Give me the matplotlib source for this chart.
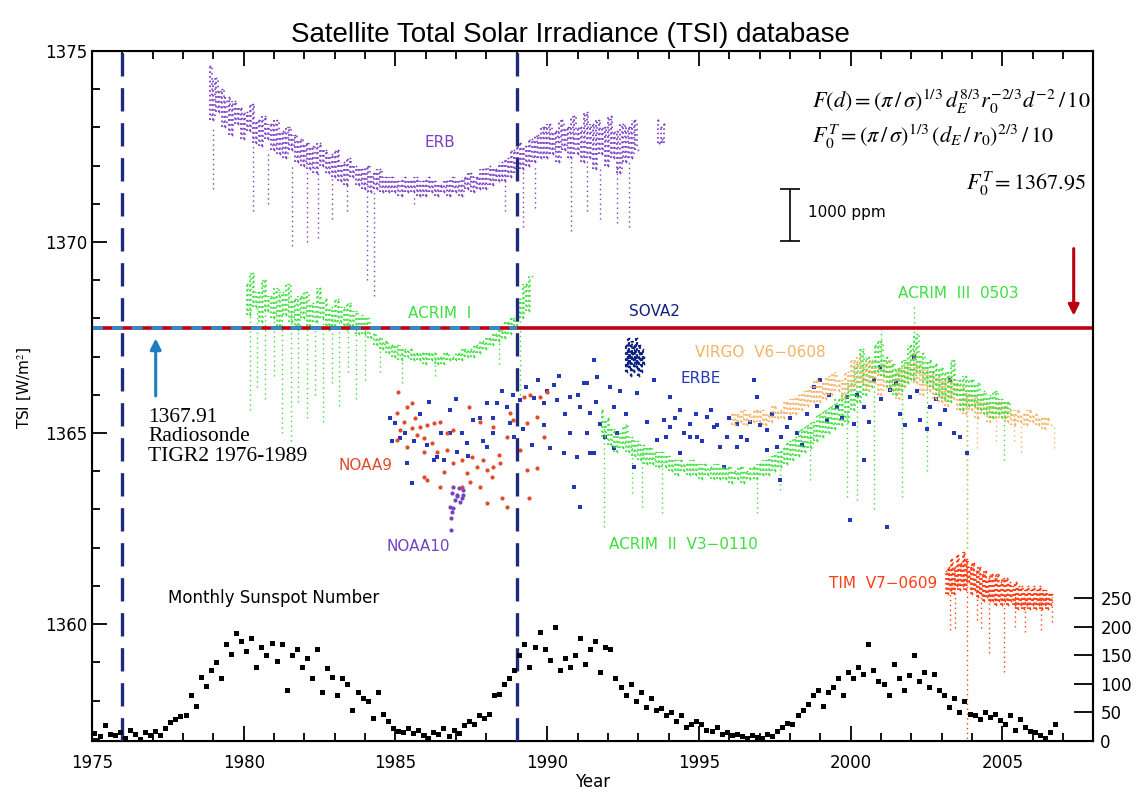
import numpy as np
import matplotlib
matplotlib.use('Agg')
import matplotlib.pyplot as plt

plt.rcParams['mathtext.fontset'] = 'stix'

# ---------------- data ----------------
# ERB, 0.1 yr steps from 1978.9
erb_start = 1978.9
erb_vals = [
    1374.6, 1373.2, 1374.3, 1373.4, 1374.0, 1373.0, 1373.8, 1372.8, 1373.7, 1373.1,
    1373.5, 1372.7, 1373.4, 1372.9, 1373.6, 1372.6, 1373.2, 1372.5, 1373.3, 1372.7,
    1373.1, 1372.4, 1373.2, 1372.3, 1372.9, 1372.2, 1373.0, 1372.4, 1372.8, 1372.1,
    1372.7, 1372.0, 1372.6, 1371.9, 1372.5, 1371.8, 1372.6, 1372.0, 1372.4, 1371.8,
    1372.3, 1371.7, 1372.4, 1371.6, 1372.1, 1371.5, 1372.2, 1371.7, 1372.0, 1371.5,
    1371.9, 1371.4, 1372.0, 1371.3, 1371.8, 1371.4, 1371.9, 1371.3, 1371.7, 1371.3,
    1371.7, 1371.3, 1371.6, 1371.2, 1371.7, 1371.3, 1371.6, 1371.3, 1371.7, 1371.2,
    1371.6, 1371.2, 1371.7, 1371.3, 1371.6, 1371.2, 1371.5, 1371.3, 1371.6, 1371.2,
    1371.7, 1371.3, 1371.6, 1371.2, 1371.7, 1371.4, 1371.8, 1371.3, 1371.7, 1371.4,
    1371.9, 1371.4, 1372.0, 1371.5, 1371.9, 1371.6, 1372.1, 1371.6, 1372.2, 1371.7,
    1372.4, 1371.8, 1372.6, 1371.9, 1372.5, 1372.0, 1372.7, 1372.1, 1372.8, 1372.2,
    1373.0, 1372.2, 1373.1, 1372.3, 1372.9, 1372.1, 1373.2, 1372.4, 1373.0, 1372.2,
    1373.3, 1372.3, 1373.0, 1372.1, 1373.4, 1372.2, 1373.1, 1371.9, 1373.2, 1372.3,
    1373.0, 1372.0, 1373.3, 1372.2, 1372.9, 1371.8, 1373.1, 1372.1, 1373.0, 1372.2,
    1373.2, 1372.4,
]
erb_end_t = [1993.65, 1993.7, 1993.75, 1993.8, 1993.85]
erb_end_v = [1373.2, 1372.6, 1373.0, 1372.7, 1373.1]
erb_dip_t = [1979.0, 1980.3, 1980.8, 1981.6, 1982.1, 1982.45, 1982.9, 1983.4, 1984.05, 1984.3,
             1985.6, 1988.6, 1989.2, 1989.6, 1990.8, 1991.3, 1991.75, 1992.3, 1992.7]
erb_dip_lo = [1371.4, 1370.8, 1371.0, 1369.9, 1370.0, 1370.1, 1370.6, 1370.8, 1369.0, 1368.6,
              1371.0, 1370.8, 1370.4, 1370.9, 1370.3, 1370.8, 1370.6, 1370.5, 1370.4]
erb_dip_hi = [1373.0, 1372.6, 1372.4, 1372.0, 1371.9, 1371.8, 1371.7, 1371.5, 1371.3, 1371.3,
              1371.2, 1371.6, 1371.9, 1372.0, 1372.2, 1372.2, 1372.0, 1372.0, 1372.1]

# ACRIM I, 0.1 yr steps from 1980.1
acrim1_start = 1980.1
acrim1_vals = [
    1368.9, 1368.1, 1369.2, 1368.3, 1368.7, 1367.9, 1369.0, 1368.2, 1368.6,
    1368.0, 1368.8, 1367.8, 1368.7, 1368.1, 1368.9, 1367.9, 1368.5, 1367.7, 1368.6,
    1368.0, 1368.7, 1367.8, 1368.4, 1367.9, 1368.8, 1368.0, 1368.5, 1367.7, 1368.3,
    1367.8, 1368.5, 1367.9, 1368.3, 1367.7, 1368.4, 1367.8, 1368.2, 1367.6, 1368.1,
    1367.6, 1368.0, 1367.5, 1367.6, 1367.3, 1367.5, 1367.2, 1367.4, 1367.1, 1367.3,
    1367.0, 1367.3, 1366.9, 1367.2, 1367.0, 1367.2, 1366.9, 1367.1, 1366.9, 1367.1,
    1366.8, 1367.1, 1366.9, 1367.1, 1366.8, 1367.0, 1366.8, 1367.1, 1366.9, 1367.0,
    1366.9, 1367.1, 1366.9, 1367.2, 1367.0, 1367.2, 1367.0, 1367.3, 1367.1, 1367.4,
    1367.2, 1367.5, 1367.3, 1367.6, 1367.4, 1367.7, 1367.5, 1367.9, 1367.6, 1368.0,
    1367.8, 1368.5, 1368.0, 1368.9, 1368.2, 1369.1,
]
acrim1_dip_t = [1980.2, 1980.45, 1980.7, 1981.0, 1981.25, 1981.55, 1981.8, 1982.1, 1982.35, 1982.6,
                1982.9, 1983.15, 1983.45, 1983.7, 1984.0, 1984.5, 1985.2, 1986.3, 1988.4, 1989.1]
acrim1_dip_lo = [1365.6, 1366.2, 1365.9, 1366.5, 1365.0, 1364.8, 1365.8, 1365.4, 1366.0, 1365.3,
                 1366.3, 1365.7, 1366.6, 1365.9, 1366.4, 1366.6, 1366.3, 1366.5, 1366.8, 1366.0]
acrim1_dip_hi = [1368.3, 1368.3, 1368.3, 1368.2, 1368.2, 1368.2, 1368.2, 1368.1, 1368.1, 1368.1,
                 1368.0, 1368.0, 1368.0, 1367.9, 1367.7, 1367.3, 1367.1, 1366.9, 1367.5, 1368.0]

# NOAA9 (red) and NOAA10 (purple) points
noaa9_t = [1985.10, 1985.38, 1985.54, 1985.05, 1985.27, 1985.65, 1985.16, 1985.54, 1985.82, 1986.04,
           1985.05, 1985.38, 1985.71, 1985.93, 1986.26, 1986.48, 1986.70, 1986.91, 1986.20, 1986.37,
           1986.70, 1985.93, 1985.93, 1986.04, 1986.48, 1986.59, 1986.91, 1987.19, 1987.35, 1987.52,
           1987.68, 1987.90, 1988.01, 1988.18, 1987.79, 1987.46, 1987.19, 1988.40, 1988.01, 1988.51,
           1988.67, 1988.23, 1988.45, 1987.41, 1987.79, 1988.23, 1988.67, 1988.78, 1989.22, 1989.44,
           1989.77, 1989.99, 1989.66, 1989.33, 1989.66, 1989.39, 1989.11, 1989.88, 1988.89, 1989.33]
noaa9_v = [1366.08, 1365.69, 1365.78, 1365.52, 1365.30, 1365.39, 1365.08, 1365.12, 1365.17, 1365.21,
           1364.82, 1364.64, 1364.95, 1364.86, 1365.26, 1365.30, 1364.99, 1365.08, 1364.73, 1364.51,
           1364.56, 1364.51, 1363.86, 1363.77, 1363.60, 1363.99, 1364.21, 1364.30, 1363.95, 1364.38,
           1364.12, 1364.30, 1364.03, 1363.86, 1363.60, 1363.73, 1363.60, 1364.43, 1363.16, 1363.29,
           1363.07, 1364.12, 1364.21, 1365.69, 1365.30, 1365.17, 1364.91, 1365.52, 1365.95, 1366.00,
           1365.95, 1366.08, 1365.43, 1364.03, 1364.08, 1363.29, 1364.56, 1364.91, 1365.34, 1365.26]
noaa10_t = [1986.91, 1987.08, 1987.22, 1986.86, 1987.02, 1987.19, 1986.97, 1987.13, 1986.80, 1986.91,
            1986.86, 1986.83, 1986.83, 1987.02, 1987.24]
noaa10_v = [1363.60, 1363.55, 1363.51, 1363.42, 1363.38, 1363.29, 1363.25, 1363.20, 1363.07, 1363.03,
            1362.94, 1362.77, 1362.46, 1363.34, 1363.38]

# ERBE (blue) points
erbe_t = [1984.83, 1984.99, 1984.88, 1985.16, 1985.60, 1986.04, 1986.37, 1986.59, 1986.80, 1987.19,
          1987.57, 1987.79, 1988.01, 1988.34, 1988.67, 1989.11, 1989.55, 1989.88, 1990.32, 1990.76,
          1991.09, 1991.42, 1988.01, 1987.35, 1988.23, 1988.78, 1985.38, 1985.54, 1990.87, 1991.09,
          1990.54, 1990.98, 1991.53, 1990.76, 1991.31, 1986.26, 1987.02, 1988.89, 1990.21, 1991.20,
          1991.31, 1991.64, 1992.08, 1991.53, 1992.19, 1991.75, 1992.30, 1991.42, 1992.96, 1993.51,
          1993.84, 1994.06, 1994.39, 1994.72, 1994.94, 1995.27, 1995.49, 1995.71, 1995.93, 1996.26,
          1996.59, 1996.80, 1996.91, 1997.24, 1997.57, 1997.90, 1998.23, 1998.56, 1998.78, 1999.00,
          1999.22, 1999.55, 1999.88, 2000.10, 2000.43, 2000.76, 2000.98, 2001.31, 2001.64, 2001.97,
          2002.30, 2002.63, 2002.96, 2003.29, 2003.62, 2003.84, 2002.08, 2000.43, 2001.20, 1999.99,
          1997.68, 1995.82, 1994.39, 1992.85, 1993.62, 1994.06, 1994.72, 1996.26, 1997.24,
          1989.3, 1989.7, 1990.0, 1990.4, 1990.6, 1991.0, 1991.6, 1992.4, 1992.6, 1992.2,
          1989.9, 1990.1, 1991.9, 1993.3, 1993.9, 1994.2, 1994.5, 1994.9, 1995.1, 1995.4,
          1995.6, 1996.0, 1996.4, 1996.7, 1997.0, 1997.4, 1997.7, 1998.0, 1998.4, 1998.9,
          1999.3, 1999.7, 2000.2, 2000.6, 2001.0, 2001.5, 2001.8, 2002.2, 2002.5, 2002.8,
          2003.1, 2003.4, 1985.3, 1985.8, 1986.1, 1986.5, 1986.8, 1987.0, 1987.4, 1987.9,
          1988.2, 1988.5, 1988.9, 1989.2, 1989.5]
erbe_v = [1365.39, 1365.26, 1364.78, 1364.86, 1364.78, 1364.69, 1364.38, 1364.30, 1364.99, 1364.99,
          1365.34, 1365.39, 1365.78, 1365.78, 1365.69, 1365.87, 1365.91, 1365.78, 1365.87, 1365.95,
          1365.69, 1365.52, 1364.64, 1364.73, 1364.99, 1365.26, 1364.21, 1363.69, 1363.60, 1363.07,
          1364.47, 1364.38, 1364.47, 1364.99, 1364.99, 1364.30, 1364.51, 1366.00, 1366.26, 1366.30,
          1366.30, 1366.47, 1366.21, 1366.91, 1365.69, 1365.25, 1364.99, 1364.47, 1366.04, 1366.39,
          1365.34, 1365.95, 1365.60, 1365.25, 1364.90, 1365.43, 1365.17, 1364.64, 1364.90, 1365.25,
          1364.82, 1366.39, 1365.95, 1365.08, 1364.64, 1365.17, 1364.99, 1365.51, 1366.21, 1366.39,
          1365.34, 1365.69, 1365.95, 1365.25, 1365.69, 1366.39, 1366.74, 1366.13, 1365.51, 1365.95,
          1365.34, 1365.69, 1365.25, 1366.39, 1364.90, 1364.47, 1366.99, 1364.29, 1362.55, 1362.72,
          1363.77, 1364.12, 1364.47, 1364.12, 1364.82, 1365.17, 1364.90, 1364.64, 1364.56,
          1366.2, 1366.4, 1366.1, 1366.5, 1365.5, 1366.0, 1365.8, 1366.1, 1365.5, 1364.6,
          1365.2, 1364.6, 1364.9, 1365.3, 1364.9, 1365.4, 1365.0, 1365.5, 1364.8, 1365.6,
          1365.2, 1365.4, 1364.9, 1365.3, 1365.2, 1365.5, 1364.9, 1365.4, 1364.7, 1365.7,
          1366.0, 1365.4, 1366.0, 1365.3, 1365.9, 1366.3, 1365.2, 1366.1, 1365.1, 1365.9,
          1365.6, 1365.0, 1365.0, 1365.5, 1365.8, 1365.0, 1365.6, 1365.9, 1364.4, 1364.8,
          1365.4, 1366.1, 1364.9, 1365.1, 1364.7]

# SOVA2, 0.025 yr steps from 1992.6
sova_start = 1992.6
sova_vals = [1367.3, 1366.6, 1367.2, 1366.8, 1367.5, 1366.7, 1367.1, 1366.5, 1367.4, 1366.9,
             1367.2, 1366.6, 1367.3, 1366.8, 1367.5, 1366.7, 1367.0, 1366.5, 1367.3, 1366.9,
             1367.1, 1366.6, 1367.2, 1366.8, 1367.0]

# ACRIM II, 0.1 yr steps from 1991.8
acrim2_start = 1991.8
acrim2_vals = [
    1365.6, 1364.9, 1365.4,
    1364.7, 1365.1, 1364.5, 1365.0, 1364.6, 1365.2, 1364.5, 1364.9, 1364.4,
    1364.8, 1364.3, 1364.7, 1364.2, 1364.6, 1364.2, 1364.5, 1364.1, 1364.5, 1364.1,
    1364.4, 1364.0, 1364.3, 1363.9, 1364.3, 1364.0, 1364.2, 1363.9, 1364.3, 1363.9,
    1364.2, 1363.8, 1364.2, 1363.9, 1364.1, 1363.8, 1364.2, 1363.8, 1364.1, 1363.8,
    1364.1, 1363.7, 1364.0, 1363.8, 1364.1, 1363.7, 1364.0, 1363.8, 1364.1, 1363.8,
    1364.2, 1363.9, 1364.3, 1363.9, 1364.4, 1364.0, 1364.5, 1364.1, 1364.6, 1364.2,
    1364.8, 1364.3, 1364.9, 1364.4, 1365.1, 1364.5, 1365.2, 1364.6, 1365.3, 1364.8,
    1365.5, 1364.9, 1365.6, 1365.0, 1365.7, 1365.1, 1365.9, 1365.2, 1366.0, 1365.3,
    1366.3, 1365.6, 1366.8, 1365.8, 1367.2, 1366.0, 1367.0, 1366.2, 1366.9,
]
# ACRIM III, 0.1 yr steps from 2000.8
acrim3_start = 2000.8
acrim3_vals = [
    1367.3, 1366.6,
    1367.4, 1366.5, 1367.0, 1366.2, 1366.8, 1366.0, 1366.7, 1366.1, 1366.9, 1366.3,
    1367.3, 1366.4, 1367.6, 1366.6, 1367.1, 1366.3, 1366.9, 1366.2, 1366.8, 1366.0,
    1366.7, 1365.9, 1366.6, 1365.8, 1366.9, 1366.0, 1366.4, 1365.6, 1366.5, 1365.7,
    1366.4, 1365.7, 1366.3, 1365.6, 1366.1, 1365.5, 1366.0, 1365.4, 1366.1, 1365.5,
    1365.9, 1365.4, 1365.8, 1365.5,
]
acrim23_dip_t = [1991.86, 1992.79, 1993.12, 1993.78, 1996.91, 1997.68, 1998.67, 1999.88, 2000.21,
                 2000.76, 2001.70, 2002.52, 2003.84, 2005.05]
acrim23_dip_lo = [1362.55, 1363.42, 1363.07, 1362.9, 1362.9, 1363.5, 1363.77, 1363.33, 1363.25,
                  1363.0, 1363.33, 1364.0, 1362.0, 1364.3]
acrim23_dip_hi = [1365.2, 1364.7, 1364.5, 1364.3, 1364.0, 1364.3, 1365.0, 1365.6, 1366.0,
                  1366.6, 1366.5, 1366.6, 1366.0, 1365.6]
acrim3_spike_t = [2002.08, 2001.0]
acrim3_spike_lo = [1367.0, 1366.8]
acrim3_spike_hi = [1368.35, 1367.8]

# VIRGO, 0.1 yr steps from 1996.1
virgo_start = 1996.1
virgo_vals = [
    1365.5, 1365.2, 1365.5, 1365.3, 1365.6, 1365.2, 1365.5, 1365.3, 1365.6,
    1365.3, 1365.6, 1365.2, 1365.5, 1365.3, 1365.7, 1365.4, 1365.6, 1365.4, 1365.8,
    1365.5, 1365.9, 1365.5, 1366.0, 1365.6, 1366.1, 1365.7, 1366.2, 1365.8, 1366.4,
    1365.8, 1366.3, 1365.9, 1366.5, 1366.0, 1366.6, 1366.1, 1366.4, 1365.9, 1366.6,
    1366.1, 1366.9, 1366.2, 1367.0, 1366.3, 1366.8, 1366.1, 1366.9, 1366.3, 1366.7,
    1366.0, 1366.8, 1366.2, 1366.9, 1366.1, 1366.6, 1365.9, 1366.7, 1366.2, 1366.8,
    1366.4, 1367.1, 1366.3, 1366.8, 1366.0, 1366.7, 1366.1, 1366.6, 1365.9, 1366.5,
    1365.8, 1366.4, 1365.7, 1366.5, 1365.9, 1366.3, 1365.6, 1366.2, 1365.5, 1366.1,
    1365.6, 1366.0, 1365.4, 1365.9, 1365.5, 1365.8, 1365.3, 1365.7, 1365.4, 1365.8,
    1365.4, 1365.7, 1365.3, 1365.6, 1365.2, 1365.6, 1365.3, 1365.5, 1365.2, 1365.6,
    1365.3, 1365.5, 1365.2, 1365.4, 1365.1, 1365.4, 1365.2,
]
virgo_dip_t = [2003.84, 2004.17, 2004.8, 2005.38, 2005.6, 2006.7]
virgo_dip_lo = [1362.0, 1364.6, 1364.8, 1364.8, 1364.5, 1364.6]
virgo_dip_hi = [1366.0, 1365.8, 1365.6, 1365.5, 1365.4, 1365.2]

# TIM, 0.05 yr steps from 2003.15
tim_start = 2003.15
tim_vals = [
    1361.4, 1360.8, 1361.5, 1360.9, 1361.7, 1360.8, 1361.5, 1361.0, 1361.8, 1360.9,
    1361.6, 1361.0, 1361.9, 1360.9, 1361.7, 1361.1, 1361.5, 1360.8, 1361.6, 1360.9,
    1361.4, 1360.7, 1361.5, 1360.8, 1361.3, 1360.6, 1361.4, 1360.7, 1361.2, 1360.6,
    1361.3, 1360.6, 1361.2, 1360.5, 1361.3, 1360.6, 1361.1, 1360.5, 1361.2, 1360.6,
    1361.2, 1360.5, 1361.1, 1360.6, 1361.0, 1360.5, 1361.1, 1360.4, 1361.0, 1360.5,
    1361.0, 1360.4, 1360.9, 1360.5, 1361.0, 1360.4, 1360.9, 1360.5, 1361.0, 1360.4,
    1360.9, 1360.5, 1361.0, 1360.4, 1360.9, 1360.5, 1360.9, 1360.4, 1360.8, 1360.5,
    1360.8,
]
tim_dip_t = [2003.29, 2003.45, 2003.82, 2004.18, 2004.28, 2004.55, 2005.05, 2005.43, 2005.76, 2006.26, 2006.65]
tim_dip_lo = [1359.84, 1359.9, 1356.5, 1360.1, 1359.9, 1359.24, 1358.74, 1359.92, 1359.8, 1359.84, 1360.05]
tim_dip_hi = [1361.0, 1361.1, 1361.6, 1361.0, 1361.0, 1360.9, 1360.8, 1360.8, 1360.7, 1360.7, 1360.7]

# monthly sunspot number, two-month steps from 1975
ssn_start = 1975.0
ssn_vals = [
    14, 9, 28, 12, 10, 16,
    6, 20, 13, 4, 16, 11,
    17, 10, 22, 33, 38, 44,
    45, 80, 62, 112, 96, 125,
    138, 110, 170, 152, 188, 175,
    158, 180, 130, 165, 150, 172,
    140, 170, 90, 150, 160, 130,
    145, 110, 160, 85, 128, 112,
    80, 110, 100, 55, 85, 75,
    70, 40, 86, 48, 35, 22,
    18, 16, 22, 14, 20, 11,
    6, 16, 12, 22, 8, 20,
    14, 28, 35, 30, 46, 40,
    48, 80, 82, 100, 110, 125,
    150, 170, 130, 165, 190, 160,
    142, 200, 125, 145, 130, 150,
    180, 135, 160, 175, 120, 165,
    160, 110, 95, 80, 100, 70,
    85, 60, 75, 55, 58, 45,
    50, 35, 45, 25, 30, 35,
    30, 20, 18, 25, 12, 15,
    10, 12, 8, 6, 10, 7,
    5, 12, 8, 18, 25, 32,
    30, 45, 55, 65, 80, 90,
    62, 85, 95, 110, 80, 120,
    110, 130, 118, 170, 125, 105,
    100, 80, 135, 110, 90, 115,
    150, 105, 120, 95, 118, 90,
    80, 60, 75, 50, 70, 48,
    45, 38, 50, 42, 48, 36,
    30, 45, 20, 38, 25, 18,
    16, 10, 5, 15, 30,
]

ref_level = 1367.75          # where the red/blue horizontal lines sit in the picture
period_years = [1976.0, 1989.0]
ssn_ticks = [0, 50, 100, 150, 200, 250]

# ---------------- colours ----------------
ERB_C = '#7B3FC4'
ACRIM_C = '#3BE03B'
NOAA9_C = '#E24A2C'
NOAA10_C = '#7443C0'
ERBE_C = '#2437B5'
SOVA_C = '#10237F'
VIRGO_C = '#F3B366'
TIM_C = '#FF3B14'

DOTS = (0, (1, 1.6))
SPARSE = (0, (1, 2.5))


def steps(start, vals, dt):
    return start + dt * np.arange(len(vals))


def dotted_band(ax, start, vals, dt, color, lw=1.3):
    # each reading joined to the next by a dotted vertical stroke -> speckled band
    t = steps(start, vals, dt)
    v = np.asarray(vals)
    ax.vlines(t[:-1], np.minimum(v[:-1], v[1:]), np.maximum(v[:-1], v[1:]),
              colors=color, linestyles=DOTS, lw=lw)
    ax.vlines(t[:-1] + dt / 2, np.minimum(v[:-1], v[1:]), np.maximum(v[:-1], v[1:]),
              colors=color, linestyles=(0.8, (1, 2.2)), lw=lw * 0.9)
    ax.plot(t, v, '.', color=color, ms=2.5, mew=0)


fig = plt.figure(figsize=(11.41, 7.89), dpi=100)
ax = fig.add_axes([0.0806, 0.0608, 0.8777, 0.8746])
ax.set_xlim(1975, 2008)
ax.set_ylim(1356.94, 1375)

# vertical period lines
for yr in period_years:
    ax.axvline(yr, color='#1F2A7C', lw=2.4, dashes=(7, 3.5), zorder=6)

# dips drawn as dotted columns
ax.vlines(erb_dip_t, erb_dip_lo, erb_dip_hi, colors=ERB_C, linestyles=SPARSE, lw=1.0)
ax.vlines(acrim1_dip_t, acrim1_dip_lo, acrim1_dip_hi, colors=ACRIM_C, linestyles=SPARSE, lw=1.0)
ax.vlines(acrim23_dip_t, acrim23_dip_lo, acrim23_dip_hi, colors=ACRIM_C, linestyles=SPARSE, lw=1.0)
ax.vlines(acrim3_spike_t, acrim3_spike_lo, acrim3_spike_hi, colors=ACRIM_C, linestyles=SPARSE, lw=1.0)
ax.vlines(virgo_dip_t, virgo_dip_lo, virgo_dip_hi, colors=VIRGO_C, linestyles=SPARSE, lw=1.0)
ax.vlines(tim_dip_t, tim_dip_lo, tim_dip_hi, colors=TIM_C, linestyles=SPARSE, lw=1.0)

dotted_band(ax, erb_start, erb_vals, 0.1, ERB_C)
ax.plot(erb_end_t, erb_end_v, '.', color=ERB_C, ms=3, mew=0)
ax.vlines(erb_end_t, 1372.6, erb_end_v, colors=ERB_C, linestyles=DOTS, lw=1.2)
dotted_band(ax, acrim1_start, acrim1_vals, 0.1, ACRIM_C)

ax.plot(erbe_t, erbe_v, 's', color=ERBE_C, ms=2.2, mew=0)
ax.plot(noaa9_t, noaa9_v, 'o', color=NOAA9_C, ms=3, mew=0)
ax.plot(noaa10_t, noaa10_v, 'o', color=NOAA10_C, ms=3, mew=0)

dotted_band(ax, acrim2_start, acrim2_vals, 0.1, ACRIM_C)
dotted_band(ax, virgo_start, virgo_vals, 0.1, VIRGO_C)
dotted_band(ax, acrim3_start, acrim3_vals, 0.1, ACRIM_C)
dotted_band(ax, sova_start, sova_vals, 0.025, SOVA_C, lw=1.6)
dotted_band(ax, tim_start, tim_vals, 0.05, TIM_C)

# reference levels
ax.axhline(ref_level, color='#C00012', lw=2.6, zorder=7)
ax.plot([1975, period_years[1]], [ref_level, ref_level], color='#2A8FD0', lw=2.6,
        dashes=(3, 2.5), zorder=8)

# arrows
ax.annotate('', xy=(1977.1, 1367.55), xytext=(1977.1, 1365.9),
            arrowprops=dict(arrowstyle='-|>', color='#1C7EC0', lw=2.2, mutation_scale=16))
ax.annotate('', xy=(2007.35, 1368.0), xytext=(2007.35, 1369.9),
            arrowprops=dict(arrowstyle='-|>', color='#B80010', lw=2.2, mutation_scale=16))

# 1000 ppm bar
ax.errorbar([1998.0], [1370.7], yerr=[[0.685], [0.685]], color='black', lw=1.2, capsize=7, capthick=1.2)
ax.text(1998.6, 1370.76, '1000 ppm', fontsize=11, va='center', ha='left')

# series labels
lab = dict(fontsize=11, ha='center', va='center')
ax.text(1986.47, 1372.6, 'ERB', color=ERB_C, **lab)
ax.text(1986.47, 1368.14, 'ACRIM  I', color=ACRIM_C, **lab)
ax.text(1993.53, 1368.19, 'SOVA2', color=SOVA_C, **lab)
ax.text(1995.05, 1366.44, 'ERBE', color=ERBE_C, **lab)
ax.text(1997.02, 1367.12, 'VIRGO  V6\u22120608', color=VIRGO_C, **lab)
ax.text(2003.55, 1368.66, 'ACRIM  III  0503', color=ACRIM_C, **lab)
ax.text(1984.0, 1364.14, 'NOAA9', color=NOAA9_C, **lab)
ax.text(1985.75, 1362.04, 'NOAA10', color=NOAA10_C, **lab)
ax.text(1994.49, 1362.09, 'ACRIM  II  V3\u22120110', color=ACRIM_C, **lab)
ax.text(2001.08, 1361.07, 'TIM  V7\u22120609', color=TIM_C, **lab)
ax.text(1981.0, 1360.68, 'Monthly Sunspot Number', color='black', fontsize=12, ha='center', va='center')

# formulas
ax.text(1998.74, 1373.66, r'$F(d) = (\pi\,/\,\sigma)^{1/3}\,d_E^{8/3}r_0^{-2/3}d^{-2}\,/\,10$',
        fontsize=16, ha='left', va='center')
ax.text(1998.74, 1372.75, r'$F_0^T = (\pi\,/\,\sigma)^{1/3}\,(d_E\,/\,r_0)^{2/3}\,/\,10$',
        fontsize=16, ha='left', va='center')
ax.text(2003.8, 1371.52, r'$F_0^T = \mathrm{1367.95}$', fontsize=16, ha='left', va='center')

ax.text(1976.85, 1364.9, '1367.91\nRadiosonde\nTIGR2 1976-1989', family='Liberation Serif',
        fontsize=15.5, ha='left', va='center', linespacing=1.05)

# axes styling
ax.set_xticks(np.arange(1975, 2006, 5))
ax.set_xticks(np.arange(1975, 2008, 1), minor=True)
ax.set_yticks([1360, 1365, 1370, 1375])
ax.set_yticks(np.arange(1357, 1376, 1), minor=True)
ax.tick_params(which='both', direction='in', top=True, right=False, labelsize=12, width=1.3)
ax.tick_params(which='major', length=11)
ax.tick_params(which='minor', length=5.5)
ax.tick_params(axis='x', pad=9)
for s in ax.spines.values():
    s.set_linewidth(1.5)

ax.text(1972.8, 1366.18, 'TSI [W/m$^2$]', rotation=90, fontsize=11, ha='center', va='center')
ax.set_xlabel('Year', fontsize=12, labelpad=1)

ax2 = ax.twinx()
ax2.set_ylim(0, 1206)
ax2.plot(steps(ssn_start + 1 / 12, ssn_vals, 1 / 6), ssn_vals, 's', color='black', ms=3.6, mew=0)
ax2.set_yticks(ssn_ticks)
ax2.tick_params(direction='in', length=14, width=1.3, labelsize=12, pad=5)
ax2.spines['right'].set_linewidth(1.5)

fig.suptitle('Satellite Total Solar Irradiance (TSI) database', family='Liberation Sans',
             fontsize=20, y=0.972)

plt.savefig('out.png', dpi=100)
